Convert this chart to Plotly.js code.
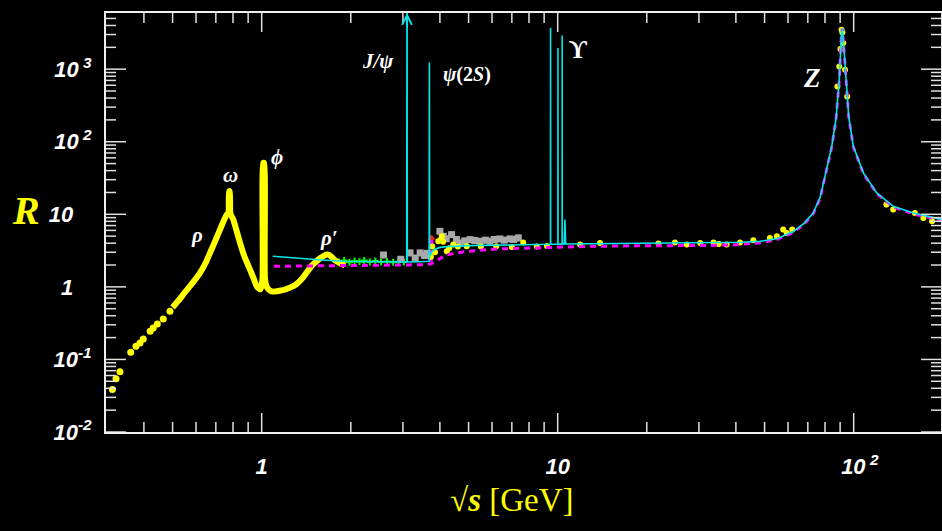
<!DOCTYPE html>
<html>
<head>
<meta charset="utf-8">
<script src="https://cdn.plot.ly/plotly-3.0.1.min.js"></script>
<style>html,body{margin:0;padding:0;background:#000;}#chart{width:942px;height:531px;}</style>
</head>
<body>
<div id="chart"></div>
<script>
// ---- data ----
const lowX = [0.313,0.322,0.332,0.361,0.376,0.388,0.398,0.420,0.430,0.444,0.465,0.490];
const lowY = [0.0385,0.054,0.0675,0.126,0.152,0.169,0.192,0.245,0.272,0.309,0.362,0.461];

const denseX = [0.50,0.515,0.53,0.55,0.572,0.595,0.619,0.645,0.669,0.695,0.723,0.745,0.762,0.772,0.776,0.780,0.784,0.802,0.822,0.845,0.875,0.913,0.94,0.962,0.99,1.006,1.012,1.019,1.026,1.04,1.07,1.095,1.124,1.16,1.2,1.24,1.28,1.33,1.38,1.43,1.49,1.54,1.58,1.62,1.66,1.69,1.72,1.75,1.79,1.85,1.91];
const denseY = [0.52,0.6,0.69,0.84,1.02,1.25,1.56,2.1,2.94,4.2,6.15,8.2,9.9,10.5,20.7,20.7,10.3,8.45,6.0,4.04,2.6,1.73,1.3,1.02,0.92,1.3,51,51,1.3,1.0,0.88,0.86,0.87,0.89,0.92,0.97,1.02,1.15,1.35,1.65,2.03,2.3,2.5,2.68,2.79,2.75,2.6,2.42,2.25,2.1,1.97];

const yelX = [3.73,3.77,3.85,3.95,4.03,4.06,4.1,4.22,4.3,4.44,4.6,4.93,5.5,6.2,7.0,7.65,8.5,9.2,11.9,13.9,21.9,24.9,27.3,30.3,33.6,35,37.2,41.3,45.8,52.1,55,57.8,59.4,62,88.1,89.4,90.2,91.0,91.6,92.2,93.5,95.1,129,136,161,172,184];
const yelY = [2.6,3.6,3.0,4.25,4.5,4.98,4.2,3.09,3.4,3.83,3.6,3.62,3.6,3.62,3.55,4.1,3.6,3.65,3.83,4.03,3.95,4.1,3.83,4.03,4.1,3.9,3.83,4.1,4.38,4.73,4.98,6.15,5.53,6.15,577,1085,1900,3480,3200,2300,980,420,13.6,11.6,10.4,8.9,8.0];

const grayX = [2.58,2.95,3.17,3.3,3.43,3.55,3.62,4.0,4.11,4.2,4.38,4.55,4.68,4.85,5.06,5.25,5.46,5.7,5.9,6.1,6.38,6.6,6.9,7.1,7.36];
const grayY = [2.75,2.4,2.94,2.5,2.94,2.7,2.9,5.83,4.98,4.6,5.25,4.5,4.03,4.3,4.48,4.35,4.25,4.4,4.25,4.5,4.58,4.4,4.58,4.5,4.73];

const greenX = [1.82,1.9,1.98,2.06,2.14,2.22,2.32,2.42,2.53,2.65,2.78,2.9,3.02];
const greenY = [2.2,2.3,2.18,2.27,2.22,2.3,2.2,2.27,2.2,2.24,2.18,2.22,2.2];

const magPtsX = [3.72,3.72,3.73,3.74];
const magPtsY = [2.4,3.0,3.6,4.2];
const redX = [3.75];
const redY = [4.73];

const cyanX = [1.09,1.2,1.4,1.6,1.9,2.3,2.8,3.09,3.097,3.104,3.4,3.68,3.686,3.692,3.75,3.85,4.0,4.3,5.0,6.0,7.5,9.0,9.455,9.46,9.465,10.015,10.023,10.03,10.35,10.355,10.36,10.52,10.58,10.64,12,15,20,25,30,36,42,48.3,55,62.5,68,73,77,80,84.3,87.1,89.4,90.8,91.5,92.6,94.1,96.2,99.7,107.8,119.6,136,159,199];
const cyanY = [2.64,2.55,2.45,2.35,2.25,2.22,2.2,2.2,1e5,2.2,2.22,2.25,1240,2.6,3.0,3.3,3.5,3.6,3.7,3.75,3.8,3.85,3.86,3730,3.86,3.88,1960,3.88,3.88,2920,3.88,3.9,8.45,3.9,3.92,3.95,3.96,3.98,4.0,4.05,4.12,4.25,4.6,5.8,7.5,10.4,17,33.3,86.5,201,710,2800,3690,2050,710,224,86.5,37.2,19.7,12.9,10.4,8.45];

const magX = [1.1,1.5,2.0,2.6,3.2,3.6,3.75,3.85,4.0,4.2,4.6,5.0,5.6,6.4,7.5,8.5,10,13,18,25,33,40,48.3,55,62.5,68,73,77,80,84.3,87.1,89.4,90.8,91.5,92.6,94.1,96.2,99.7,107.8,119.6,136,159,199];
const magY = [1.92,1.95,1.98,2.0,2.0,2.02,2.1,2.2,2.45,2.75,2.95,3.1,3.22,3.34,3.4,3.45,3.55,3.62,3.68,3.7,3.72,3.82,4.05,4.5,5.6,7.3,10.2,16.5,32,84,198,700,2750,3650,2000,700,220,85,36.5,19.3,12.6,10.1,8.3];

const yTickVals = [0.01,0.1,1,10,100,1000];
const yTickText = ['10<sup>-2</sup>','10<sup>-1</sup>','1\u00a0\u00a0\u00a0','10\u00a0\u00a0\u00a0','10<sup>\u00a02</sup>','10<sup>\u00a03</sup>'];
const xTickVals = [1,10,100];
const xTickText = ['1','10','\u00a0\u00a010<sup>\u00a02</sup>'];
const yMinor = [0.02,0.03,0.04,0.05,0.06,0.07,0.08,0.09,0.2,0.3,0.4,0.5,0.6,0.7,0.8,0.9,2,3,4,5,6,7,8,9,20,30,40,50,60,70,80,90,200,300,400,500,600,700,800,900,2000,3000,4000,5000];
const xMinor = [0.4,0.5,0.6,0.7,0.8,0.9,2,3,4,5,6,7,8,9,20,30,40,50,60,70,80,90,200];

const labels = [
  {t:'<i>ρ</i>', px:197, py:235, s:21},
  {t:'<i>ω</i>', px:230, py:175, s:21},
  {t:'<i>ϕ</i>', px:277, py:157, s:21},
  {t:'<i>ρ′</i>', px:329, py:238, s:21},
  {t:'<b><i>J/ψ</i></b>', px:378, py:61, s:21},
  {t:'<b><i>ψ</i>(2<i>S</i>)</b>', px:467, py:74, s:20},
  {t:'<b>ϒ</b>', px:578, py:50, s:25},
  {t:'<b><i>Z</i></b>', px:812, py:78, s:27}
];

// ---- traces ----
const traces = [
  {x:greenX, y:greenY, mode:'markers', marker:{color:'#00ff00', size:5, symbol:'cross-thin', line:{color:'#00ff00', width:2}}, hoverinfo:'skip'},
  {x:grayX, y:grayY, mode:'markers', marker:{color:'#a8a8a8', size:7, symbol:'square'}, error_y:{type:'percent', value:10, color:'#c8c8c8', thickness:1.5, width:0}, hoverinfo:'skip'},
  {x:magPtsX, y:magPtsY, mode:'markers', marker:{color:'#ff00ff', size:5}, hoverinfo:'skip'},
  {x:redX, y:redY, mode:'markers', marker:{color:'#ff2020', size:7, symbol:'triangle-up'}, hoverinfo:'skip'},
  {x:denseX, y:denseY, mode:'lines', line:{color:'#ffff00', width:6, shape:'spline', smoothing:0.6}, hoverinfo:'skip'},
  {x:lowX, y:lowY, mode:'markers', marker:{color:'#ffff00', size:7}, hoverinfo:'skip'},
  {x:yelX, y:yelY, mode:'markers', marker:{color:'#ffff00', size:6}, error_y:{type:'percent', value:8, color:'#ffff00', thickness:2, width:0}, hoverinfo:'skip'},
  {x:magX, y:magY, mode:'lines', line:{color:'#ff00ff', width:3, dash:'6px,5px'}, hoverinfo:'skip'},
  {x:cyanX, y:cyanY, mode:'lines', line:{color:'#00e8e8', width:1.6}, hoverinfo:'skip'}
];

const tickFont = {family:'Liberation Sans, Arial, sans-serif', size:22, color:'#ffffff', weight:'bold', style:'italic'};
const axisCommon = {
  type:'log', showgrid:false, zeroline:false, showline:true, linecolor:'#f0f0f0', linewidth:2,
  mirror:true, ticks:'', tickmode:'array', tickfont:tickFont
};

const W = 942, H = 531, L = 106, R = 1, T = 13, B = 99;
const pw = W - L - R, ph = H - T - B;
const annotations = labels.map(a => ({
  text:a.t, xref:'paper', yref:'paper', x:(a.px - L)/pw, y:(H - B - a.py)/ph,
  xanchor:'center', yanchor:'middle', showarrow:false,
  font:{family:'Liberation Serif, DejaVu Serif, serif', size:a.s, color:'#ffffff', weight:'bold'}
}));
annotations.push({
  text:'<b><i>R</i></b>', xref:'paper', yref:'paper', x:(26 - L)/pw, y:(H - B - 210)/ph,
  xanchor:'center', yanchor:'middle', showarrow:false,
  font:{family:'Liberation Serif, DejaVu Serif, serif', size:40, color:'#ffff00'}
});
annotations.push({
  text:'<b>√<i>s</i></b> [GeV]', xref:'paper', yref:'paper', x:(512 - L)/pw, y:(H - B - 500)/ph,
  xanchor:'center', yanchor:'middle', showarrow:false,
  font:{family:'Liberation Serif, DejaVu Serif, serif', size:33, color:'#ffff00'}
});
// arrow head on J/psi line
annotations.push({
  x:Math.log10(3.097), y:3.774, xref:'x', yref:'y', ax:0, ay:16, text:'',
  showarrow:true, arrowhead:5, arrowsize:1.2, arrowwidth:1.6, arrowcolor:'#00e8e8', standoff:0
});

// tick marks drawn as shapes, pointing inward on all four sides
const tickLine = {color:'#e0e0e0', width:1.5};
const shapes = [];
function xTick(v, len) {
  const f = len / ph;
  shapes.push({type:'line', layer:'above', xref:'x', yref:'paper', x0:v, x1:v, y0:0, y1:f, line:tickLine});
  shapes.push({type:'line', layer:'above', xref:'x', yref:'paper', x0:v, x1:v, y0:1, y1:1 - f, line:tickLine});
}
function yTick(v, len) {
  const f = len / pw;
  shapes.push({type:'line', layer:'above', yref:'y', xref:'paper', y0:v, y1:v, x0:0, x1:f, line:tickLine});
  shapes.push({type:'line', layer:'above', yref:'y', xref:'paper', y0:v, y1:v, x0:1, x1:1 - f, line:tickLine});
}
xTickVals.forEach(v => xTick(v, 19));
xMinor.forEach(v => xTick(v, 10));
yTickVals.forEach(v => yTick(v, 20));
yMinor.forEach(v => yTick(v, 10));

const xr = [-0.526, 2.295], yr = [-2, 3.774];
const layout = {
  width:W, height:H, margin:{l:L, r:R, t:T, b:B},
  paper_bgcolor:'#000000', plot_bgcolor:'#000000', showlegend:false,
  xaxis:Object.assign({}, axisCommon, {range:xr, tickvals:xTickVals, ticktext:xTickText, ticklabelstandoff:14}),
  yaxis:Object.assign({}, axisCommon, {range:yr, tickvals:yTickVals, ticktext:yTickText, ticklabelstandoff:8}),
  annotations:annotations,
  shapes:shapes
};

Plotly.newPlot('chart', traces, layout, {staticPlot:true, displayModeBar:false});
</script>
</body>
</html>
